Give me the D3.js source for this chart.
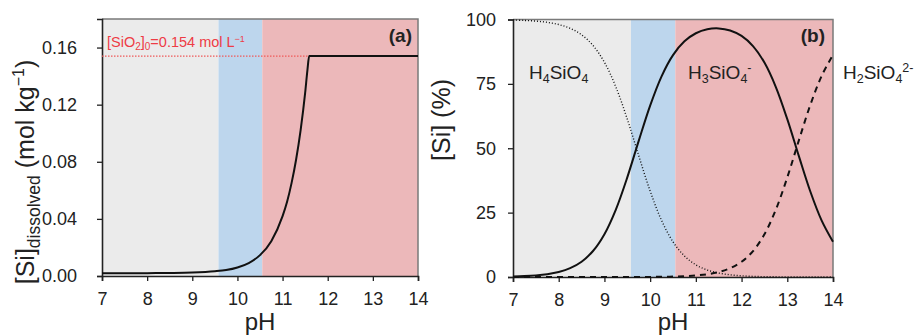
<!DOCTYPE html>
<html>
<head>
<meta charset="utf-8">
<script src="https://cdn.jsdelivr.net/npm/d3@7"></script>
<style>
  html, body { margin: 0; padding: 0; background: #fff; }
  svg { display: block; font-family: "Liberation Sans", Arial, sans-serif; }
</style>
</head>
<body>
<svg id="chart" width="915" height="335"></svg>
<script>
// pH regions shaded behind both panels
const bandEdges = [7, 9.58, 10.55, 14];
const bandColors = ["#ebebeb", "#bdd6ed", "#ecb8ba"];

// (a) dissolved silica vs pH
const phA = [7, 8, 8.5, 9, 9.5, 9.75, 10, 10.25, 10.5, 10.75, 11, 11.1, 11.2, 11.3, 11.4, 11.5, 11.55, 11.59, 12, 13, 14];
const siDissolved = [0.0020, 0.0020, 0.0021, 0.0024, 0.0033, 0.0042, 0.0060, 0.0091, 0.0146, 0.0244, 0.0419, 0.0520, 0.0652, 0.0816, 0.1022, 0.1282, 0.1440, 0.154, 0.154, 0.154, 0.154];
const siO2Initial = 0.154;
const ticksA = [0, 0.04, 0.08, 0.12, 0.16];

// (b) silica speciation (%) vs pH
const phB = [7, 7.25, 7.5, 7.75, 8, 8.25, 8.5, 8.75, 9, 9.25, 9.5, 9.75, 10, 10.25, 10.5, 10.75, 11, 11.25, 11.5, 11.75, 12, 12.25, 12.5, 12.75, 13, 13.25, 13.5, 13.75, 14];
const h4SiO4 = [99.80, 99.65, 99.37, 98.89, 98.04, 96.57, 94.06, 89.91, 83.37, 73.81, 61.31, 47.13, 33.39, 21.97, 13.66, 8.16, 4.74, 2.71, 1.53, 0.85, 0.47, 0.25, 0.13, 0.07, 0.03, 0.01, 0.01, 0, 0];
const h3SiO4 = [0.20, 0.35, 0.63, 1.11, 1.96, 3.43, 5.94, 10.09, 16.63, 26.19, 38.69, 52.87, 66.57, 77.94, 86.17, 91.52, 94.66, 96.21, 96.54, 95.75, 93.62, 89.69, 83.26, 73.77, 61.29, 47.12, 33.39, 21.99, 13.68];
const h2SiO4 = [0, 0, 0, 0, 0, 0, 0, 0, 0, 0, 0.01, 0.01, 0.04, 0.09, 0.17, 0.32, 0.60, 1.08, 1.93, 3.40, 5.91, 10.06, 16.61, 26.17, 38.68, 52.87, 66.61, 78.01, 86.32];
const ticksB = [0, 25, 50, 75, 100];
const ticksPH = [7, 8, 9, 10, 11, 12, 13, 14];

const svg = d3.select("#chart");

function panel(opts) {
  const { left, right, top, bottom, yDomain, yTicks, yFormat, yPad } = opts;
  const x = d3.scaleLinear().domain([7, 14]).range([left, right]);
  const y = d3.scaleLinear().domain(yDomain).range([bottom, top]);
  const g = svg.append("g");

  // shaded pH regions
  g.selectAll("rect.band")
    .data(d3.range(bandColors.length))
    .join("rect")
    .attr("class", "band")
    .attr("x", i => x(bandEdges[i]))
    .attr("width", i => x(bandEdges[i + 1]) - x(bandEdges[i]))
    .attr("y", top)
    .attr("height", bottom - top)
    .attr("fill", i => bandColors[i]);

  // frame (top / right)
  g.append("path")
    .attr("d", `M${left},${top}H${right}V${bottom}`)
    .attr("fill", "none").attr("stroke", "#7a7a7a").attr("stroke-width", 1.5);

  const xAxis = g.append("g")
    .attr("transform", `translate(0,${bottom})`)
    .call(d3.axisBottom(x).tickValues(ticksPH).tickSize(5).tickPadding(11).tickFormat(d3.format("d")));
  const yAxis = g.append("g")
    .attr("transform", `translate(${left},0)`)
    .call(d3.axisLeft(y).tickValues(yTicks).tickSize(5).tickPadding(yPad).tickFormat(yFormat));
  [xAxis, yAxis].forEach(a => {
    a.select(".domain").attr("stroke", "#222").attr("stroke-width", 1.6);
    a.selectAll(".tick line").attr("stroke", "#222").attr("stroke-width", 1.3);
    a.selectAll(".tick text").attr("font-size", 18).attr("fill", "#222").attr("font-family", null);
  });

  // x title
  g.append("text")
    .attr("x", (left + right) / 2).attr("y", 330)
    .attr("text-anchor", "middle").attr("font-size", 24).attr("fill", "#222")
    .text("pH");

  return { g, x, y };
}

// ---------- panel (a) ----------
const A = panel({ left: 102, right: 418, top: 19, bottom: 276, yDomain: [0, 0.18], yTicks: ticksA, yFormat: d3.format(".2f"), yPad: 20 });

A.g.append("line")
  .attr("x1", A.x(7)).attr("x2", A.x(14))
  .attr("y1", A.y(siO2Initial)).attr("y2", A.y(siO2Initial))
  .attr("stroke", "#f05a5a").attr("stroke-width", 1.2).attr("stroke-dasharray", "1.5,1.5");

const lineA = d3.line().x((d, i) => A.x(phA[i])).y(d => A.y(d)).curve(d3.curveMonotoneX);
A.g.append("path").datum(siDissolved)
  .attr("d", lineA).attr("fill", "none").attr("stroke", "#111").attr("stroke-width", 2);

const lab = A.g.append("text").attr("x", 107).attr("y", 47).attr("font-size", 14.5).attr("fill", "#ee3b45");
lab.append("tspan").text("[SiO");
lab.append("tspan").attr("font-size", 10).attr("dy", 3).text("2");
lab.append("tspan").attr("dy", -3).text("]");
lab.append("tspan").attr("font-size", 10).attr("dy", 3).text("0");
lab.append("tspan").attr("dy", -3).text("=" + siO2Initial + " mol L");
lab.append("tspan").attr("font-size", 9).attr("dy", -5).text("−1");

A.g.append("text").attr("x", 412).attr("y", 42).attr("text-anchor", "end")
  .attr("font-size", 19).attr("font-weight", "bold").attr("fill", "#222").text("(a)");

const yTitleA = A.g.append("text")
  .attr("transform", "translate(34,172) rotate(-90)")
  .attr("text-anchor", "middle").attr("font-size", 25).attr("fill", "#222");
yTitleA.append("tspan").text("[Si]");
yTitleA.append("tspan").attr("font-size", 17.5).attr("dy", 6).text("dissolved");
yTitleA.append("tspan").attr("dy", -6).text(" (mol kg");
yTitleA.append("tspan").attr("font-size", 16).attr("dy", -10).text("−1");
yTitleA.append("tspan").attr("dy", 10).text(")");

// ---------- panel (b) ----------
const B = panel({ left: 513, right: 833, top: 19.5, bottom: 277, yDomain: [0, 100], yTicks: ticksB, yFormat: d3.format("d"), yPad: 12 });

const lineB = d3.line().x((d, i) => B.x(phB[i])).y(d => B.y(d)).curve(d3.curveCatmullRom);
const species = [
  { values: h4SiO4, dash: "1,2", width: 1.4 },
  { values: h3SiO4, dash: null, width: 2 },
  { values: h2SiO4, dash: "6,5", width: 2 }
];
B.g.selectAll("path.species")
  .data(species)
  .join("path")
  .attr("class", "species")
  .attr("d", d => lineB(d.values))
  .attr("fill", "none").attr("stroke", "#111")
  .attr("stroke-width", d => d.width)
  .attr("stroke-dasharray", d => d.dash);

function formula(xp, parts) {
  const t = B.g.append("text").attr("x", xp).attr("y", 79).attr("font-size", 19).attr("fill", "#222");
  parts.forEach(([s, kind]) => {
    const ts = t.append("tspan").text(s);
    if (kind === "sub") ts.attr("font-size", 12.5).attr("dy", 4);
    if (kind === "sup") ts.attr("font-size", 12.5).attr("dy", -11);
    if (kind === "back") ts.attr("dy", -4);
  });
}
formula(529, [["H"], ["4", "sub"], ["SiO", "back"], ["4", "sub"]]);
formula(688, [["H"], ["3", "sub"], ["SiO", "back"], ["4", "sub"], ["-", "sup"]]);
formula(843, [["H"], ["2", "sub"], ["SiO", "back"], ["4", "sub"], ["2-", "sup"]]);

B.g.append("text").attr("x", 825).attr("y", 42).attr("text-anchor", "end")
  .attr("font-size", 19).attr("font-weight", "bold").attr("fill", "#222").text("(b)");

B.g.append("text")
  .attr("transform", "translate(450,120) rotate(-90)")
  .attr("text-anchor", "middle").attr("font-size", 25).attr("fill", "#222")
  .text("[Si] (%)");
</script>
</body>
</html>
